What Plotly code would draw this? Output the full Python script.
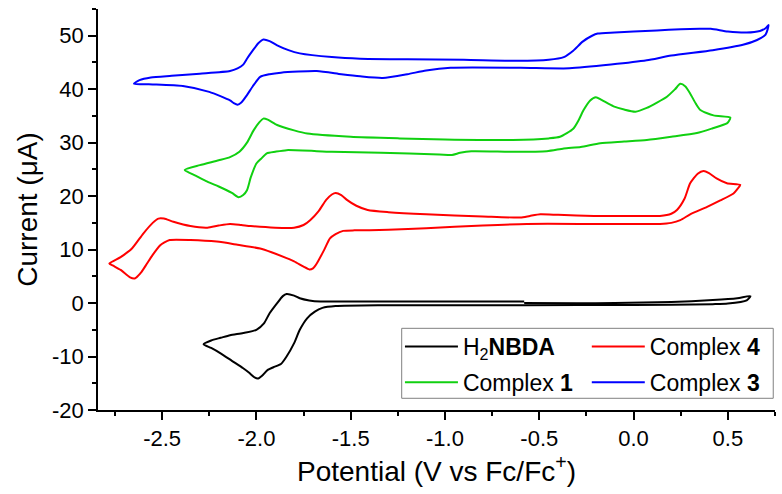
import plotly.graph_objects as go

# ---------------- data ----------------
# H2NBDA (black): start at -0.58 V, sweep to +0.62, back to -2.28, back to -0.58
h2nbda_v = [-0.58, -0.30, -0.10, 0.20, 0.42, 0.55, 0.62,
            0.60, 0.50, 0.42, 0.00, -0.58, -1.00, -1.34, -1.58, -1.65, -1.69, -1.73, -1.77,
            -1.80, -1.84, -1.87, -1.91, -1.94, -1.97, -1.99, -2.01, -2.04, -2.07, -2.13,
            -2.19, -2.24, -2.28,
            -2.24, -2.19, -2.14, -2.07, -2.00, -1.96, -1.93, -1.89, -1.86, -1.84, -1.80,
            -1.77, -1.72, -1.66, -1.40, -1.00, -0.58]
h2nbda_i = [0.00, -0.05, 0.00, 0.20, 0.56, 0.90, 1.30,
            0.50, -0.10, -0.20, -0.35, -0.40, -0.40, -0.40, -0.55, -0.90, -1.60, -2.80, -5.00,
            -7.50, -10.0, -11.4, -12.0, -12.5, -13.6, -14.1, -13.9, -13.0, -12.2, -10.8,
            -9.4, -8.4, -7.7,
            -7.0, -6.5, -6.0, -5.6, -5.0, -3.8, -1.9, 0.0, 1.3, 1.7, 1.4,
            0.9, 0.5, 0.3, 0.3, 0.3, 0.3]

# Complex 4 (red)
c4_v = [-2.78, -2.72, -2.66, -2.60, -2.55, -2.52, -2.49, -2.44, -2.35, -2.26, -2.20, -2.14,
        -2.08, -2.03, -1.90, -1.80, -1.75, -1.715, -1.67, -1.63, -1.60, -1.58, -1.55, -1.52,
        -1.47, -1.41, -1.30, -1.10, -0.80, -0.60, -0.55, -0.495, -0.40, -0.21, 0.00, 0.14,
        0.20, 0.23, 0.27, 0.30, 0.34, 0.371, 0.40, 0.44, 0.495, 0.566,
        0.55, 0.53, 0.46, 0.39, 0.30, 0.248, 0.20, 0.14, -0.20, -0.566, -0.80, -1.10, -1.30,
        -1.40, -1.48, -1.54, -1.58, -1.61, -1.64, -1.68, -1.70, -1.72, -1.75, -1.80, -1.84,
        -1.92, -1.98, -2.10, -2.21, -2.35, -2.46, -2.49, -2.51, -2.55, -2.58, -2.61, -2.645,
        -2.67, -2.72, -2.76, -2.78]
c4_i = [7.4, 8.6, 10.2, 13.0, 15.0, 15.8, 15.8, 15.2, 14.4, 14.1, 14.5, 14.8,
        14.6, 14.4, 14.1, 14.1, 14.6, 15.5, 17.2, 19.3, 20.3, 20.6, 20.2, 19.3,
        18.2, 17.4, 17.0, 16.6, 16.2, 16.0, 16.3, 16.6, 16.5, 16.3, 16.3, 16.3,
        16.7, 17.4, 19.5, 22.4, 24.2, 24.7, 24.3, 23.3, 22.4, 22.1,
        21.3, 20.5, 19.2, 18.0, 16.6, 15.5, 15.0, 14.8, 14.8, 14.8, 14.5, 14.0, 13.7,
        13.6, 13.6, 13.5, 12.9, 12.1, 10.0, 7.4, 6.5, 6.3, 6.8, 7.8, 8.4,
        9.5, 10.2, 10.9, 11.5, 11.8, 11.8, 11.3, 10.8, 9.0, 7.4, 5.8, 4.6,
        4.8, 6.2, 7.0, 7.4]

# Complex 1 (green)
c1_v = [-2.38, -2.30, -2.20, -2.14, -2.09, -2.05, -2.015, -1.985, -1.963, -1.94, -1.89,
        -1.80, -1.73, -1.50, -1.24, -1.00, -0.64, -0.45, -0.39, -0.32, -0.29, -0.265, -0.23,
        -0.20, -0.17, -0.106, -0.05, 0.01, 0.07, 0.124, 0.177, 0.22, 0.248, 0.275, 0.30,
        0.33, 0.354, 0.424, 0.513,
        0.505, 0.495, 0.42, 0.336, 0.20, 0.07, -0.05, -0.177, -0.28, -0.37, -0.46, -0.64,
        -0.86, -0.92, -0.963, -1.03, -1.34, -1.60, -1.84, -1.90, -1.945, -1.975, -2.00,
        -2.03, -2.05, -2.07, -2.095, -2.13, -2.20, -2.26, -2.32, -2.38]
c1_i = [24.9, 25.8, 26.7, 27.3, 28.3, 30.0, 32.3, 33.8, 34.5, 34.3, 33.3,
        32.3, 31.7, 31.1, 30.8, 30.6, 30.5, 30.8, 31.1, 32.6, 34.3, 36.1, 37.9,
        38.5, 38.0, 36.8, 36.2, 35.8, 36.5, 37.5, 38.6, 40.0, 41.0, 40.5, 39.2,
        37.3, 36.1, 35.1, 34.7,
        34.0, 33.6, 32.7, 31.8, 31.1, 30.5, 30.2, 29.9, 29.2, 28.9, 28.4, 28.3,
        28.4, 28.1, 27.7, 27.8, 28.1, 28.3, 28.6, 28.3, 28.0, 27.0, 26.1,
        23.5, 21.1, 20.2, 19.8, 20.6, 21.8, 22.7, 23.8, 24.9]

# Complex 3 (blue)
c3_v = [-2.65, -2.62, -2.56, -2.45, -2.30, -2.14, -2.10, -2.07, -2.05, -2.02, -1.99,
        -1.963, -1.93, -1.89, -1.83, -1.77, -1.60, -1.45, -1.20, -0.90, -0.62, -0.45,
        -0.37, -0.32, -0.27, -0.22, -0.19, -0.10, 0.00, 0.124, 0.25, 0.35, 0.41, 0.50,
        0.60, 0.67, 0.70, 0.716,
        0.70, 0.655, 0.58, 0.42, 0.20, 0.07, -0.12, -0.34, -0.60, -0.97, -1.10, -1.20,
        -1.33, -1.45, -1.55, -1.68, -1.87, -1.93, -1.98, -2.02, -2.05, -2.08, -2.10,
        -2.12, -2.14, -2.25, -2.39, -2.55, -2.65]
c3_i = [41.0, 41.7, 42.2, 42.5, 42.9, 43.4, 43.9, 44.6, 45.7, 47.2, 48.6,
        49.3, 49.0, 48.2, 47.3, 46.7, 46.0, 45.7, 45.6, 45.5, 45.3, 45.5,
        46.0, 47.2, 48.9, 50.0, 50.4, 50.6, 50.8, 51.0, 51.2, 51.3, 51.3, 50.8,
        50.6, 50.9, 51.4, 52.0,
        50.2, 49.2, 48.3, 47.3, 46.3, 45.4, 44.6, 43.9, 44.0, 44.0, 43.5, 42.8,
        42.1, 42.4, 42.8, 43.4, 43.1, 42.8, 42.3, 40.5, 38.9, 37.5, 37.1,
        37.4, 37.9, 39.5, 40.6, 40.9, 41.0]

x_tick_vals = [-2.5, -2.0, -1.5, -1.0, -0.5, 0.0, 0.5]
x_tick_text = ["-2.5", "-2.0", "-1.5", "-1.0", "-0.5", "0.0", "0.5"]
x_minor_vals = [-2.75, -2.25, -1.75, -1.25, -0.75, -0.25, 0.25, 0.75]
y_tick_vals = [-20, -10, 0, 10, 20, 30, 40, 50]
y_tick_text = ["-20", "-10", "0", "10", "20", "30", "40", "50"]
y_minor_vals = [-15, -5, 5, 15, 25, 35, 45, 55]

FONT = "Liberation Sans, Arial, sans-serif"

fig = go.Figure()

series = [
    (h2nbda_v, h2nbda_i, "H<sub>2</sub><b>NBDA</b>", "#000000", "legend"),
    (c4_v, c4_i, "Complex <b>4</b>", "#FF0000", "legend2"),
    (c1_v, c1_i, "Complex <b>1</b>", "#10D010", "legend"),
    (c3_v, c3_i, "Complex <b>3</b>", "#0000FF", "legend2"),
]
for i, (xv, yv, name, col, lg) in enumerate(series):
    fig.add_trace(go.Scatter(
        x=xv, y=yv, mode="lines", name=name, legend=lg, legendgroup=f"g{i}",
        line=dict(color=col, width=2, shape="spline", smoothing=0.6),
    ))

axis_common = dict(
    showline=True, linecolor="black", linewidth=1.8, mirror=False,
    showgrid=False, zeroline=False, ticks="outside", tickcolor="black",
    tickwidth=1.6, ticklen=8,
    tickfont=dict(family=FONT, size=22, color="black"),
)

fig.update_xaxes(
    range=[-2.84, 0.75], tickmode="array", tickvals=x_tick_vals, ticktext=x_tick_text,
    minor=dict(tickmode="array", tickvals=x_minor_vals, ticks="outside", ticklen=4,
               tickcolor="black", tickwidth=1.6),
    title=dict(text="Potential (V vs Fc/Fc<sup>+</sup>)",
               font=dict(family=FONT, size=28, color="black"), standoff=10),
    **axis_common,
)
fig.update_yaxes(
    range=[-20, 55], tickmode="array", tickvals=y_tick_vals, ticktext=y_tick_text,
    minor=dict(tickmode="array", tickvals=y_minor_vals, ticks="outside", ticklen=4,
               tickcolor="black", tickwidth=1.6),
    title=dict(text="Current (μA)", font=dict(family=FONT, size=28, color="black"),
               standoff=6),
    **axis_common,
)

legend_common = dict(
    orientation="v", bgcolor="rgba(0,0,0,0)", borderwidth=0,
    font=dict(family=FONT, size=23, color="black"),
    xanchor="left", yanchor="top", itemwidth=53, tracegroupgap=3,
)
fig.update_layout(
    width=782, height=494,
    margin=dict(l=98, r=7, t=9, b=84),
    paper_bgcolor="white", plot_bgcolor="white",
    showlegend=True,
    legend=dict(x=0.446, y=0.212, **legend_common),
    legend2=dict(x=0.722, y=0.212, **legend_common),
    shapes=[dict(type="rect", xref="paper", yref="paper",
                 x0=0.4486, x1=0.9974, y0=0.0292, y1=0.2037,
                 line=dict(color="#808080", width=1), fillcolor="rgba(0,0,0,0)",
                 layer="above")],
)

fig.write_html("out.html")
